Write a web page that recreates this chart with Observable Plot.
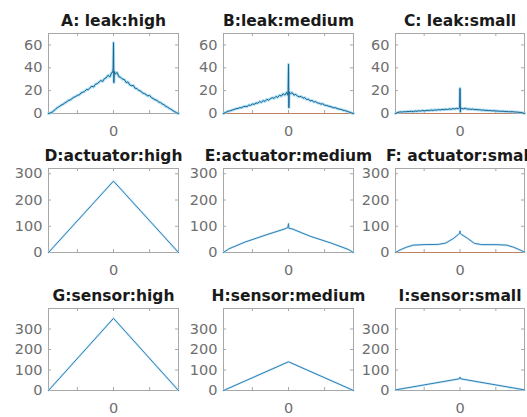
<!DOCTYPE html>
<html>
<head>
<meta charset="utf-8">
<script src="https://cdn.jsdelivr.net/npm/d3@7"></script>
<script src="https://cdn.jsdelivr.net/npm/@observablehq/plot@0.6"></script>
<style>
  html, body { margin: 0; padding: 0; background: #fff; overflow: hidden; }
  #wrap { position: relative; width: 527px; height: 417px; overflow: hidden; }
  .panel { position: absolute; }
  .panel svg { overflow: visible; max-width: none !important; display: block; }
</style>
</head>
<body>
<div id="wrap"></div>
<script>
// ---- data ----
const titles = ["A: leak:high", "B:leak:medium", "C: leak:small",
                "D:actuator:high", "E:actuator:medium", "F: actuator:small",
                "G:sensor:high", "H:sensor:medium", "I:sensor:small"];

const lagsLeak = [-1800,-1750,-1700,-1650,-1600,-1550,-1500,-1450,-1400,-1350,-1300,-1250,-1200,-1150,-1100,-1050,-1000,-950,-900,-850,-800,-750,-700,-650,-600,-550,-500,-450,-400,-350,-300,-250,-200,-150,-100,-50,
  -20,-10,0,10,20,
  50,100,150,200,250,300,350,400,450,500,550,600,650,700,750,800,850,900,950,1000,1050,1100,1150,1200,1250,1300,1350,1400,1450,1500,1550,1600,1650,1700,1750,1800];

const leakHigh = [0,0.5,1.2,2.5,3.9,5.2,6.1,7.3,8.0,9.2,10.1,11.4,11.8,13.0,14.2,14.8,15.9,16.2,18.0,18.6,19.3,21.0,20.8,22.5,23.9,23.2,25.6,26.1,27.4,28.9,28.0,30.6,31.2,33.5,32.0,35.8,
  36,40,62,27,37,
  34.5,35.9,32.1,31.6,30.0,29.8,27.1,27.6,25.0,24.3,24.6,22.0,21.8,20.1,19.8,18.0,17.6,16.5,15.4,15.8,13.9,13.1,12.0,11.5,10.1,9.6,8.4,7.6,6.3,5.5,4.4,3.6,2.4,1.5,0.6,0];

const leakMedium = [0,0.8,1.6,2.2,2.5,3.1,3.6,4.2,4.4,5.1,5.0,5.9,6.3,6.0,7.4,7.1,8.3,8.0,9.2,9.0,10.4,9.8,11.3,10.6,12.4,11.7,13.0,13.8,13.2,14.9,14.1,16.0,15.2,17.3,16.1,18.6,
  16,20,43,5,19,
  17.2,18.3,16.1,16.8,15.2,14.6,15.0,13.4,13.9,12.2,12.6,11.0,11.5,10.1,10.4,9.3,9.0,8.2,8.5,7.3,7.1,6.5,6.2,5.6,5.0,5.1,4.3,3.9,3.6,3.0,2.6,2.2,1.6,1.1,0.5,0];

const leakSmall = [0,0.8,1.2,1.4,1.3,1.6,1.5,1.8,1.7,2.0,1.6,2.2,1.9,2.4,2.1,2.6,2.3,2.5,2.8,2.6,3.0,2.7,3.2,2.9,3.4,3.1,3.6,3.3,3.8,3.5,4.0,3.7,4.3,3.9,4.5,4.2,
  4.8,5.5,22,1.5,5.0,
  4.4,4.1,4.6,3.8,4.0,3.6,3.9,3.4,3.5,3.2,3.3,2.9,3.1,2.7,2.8,2.5,2.6,2.3,2.4,2.2,2.1,2.0,1.9,2.0,1.8,1.7,1.6,1.5,1.6,1.4,1.3,1.2,1.0,0.9,0.6,0];

const lagsActHigh = [-1800, 0, 1800];
const actHigh = [0, 272, 0];

const lagsActMedium = [-1800,-1650,-1200,-600,-100,-20,0,10,100,600,1200,1650,1800];
const actMedium = [0,14,40,68,90,95,110,92,90,62,35,12,0];

const lagsActSmall = [-1800,-1700,-1500,-1300,-1000,-600,-400,-200,-50,-10,0,10,50,200,400,600,1000,1300,1500,1700,1800];
const actSmall = [0,8,20,28,30,31,36,52,68,74,82,72,68,55,35,30,30,28,20,8,2];

const lagsSensor = [-1800, 0, 1800];
const sensorHigh = [0, 352, 0];
const sensorMedium = [0, 140, 0];
const lagsSensorSmall = [-1800,-20,0,20,1800];
const sensorSmall = [3,57,65,57,3];

const yTicksLeak = [0, 20, 40, 60];
const yTicksAct = [0, 100, 200, 300];
const yTicksSensor = [0, 100, 200, 300];
const xTicks = [-1000, 0, 1000];
const xTickLabels = [0];

// ---- layout ----
const colLeft = [48, 223, 395];
const colWidth = [130, 130, 129];
const rowTop = [33, 168, 308];
const rowHeight = [80, 84, 82];
const rowYMax = [70, 320, 400];
const rowYTicks = [yTicksLeak, yTicksAct, yTicksSensor];

const series = [
  [lagsLeak, leakHigh], [lagsLeak, leakMedium], [lagsLeak, leakSmall],
  [lagsActHigh, actHigh], [lagsActMedium, actMedium], [lagsActSmall, actSmall],
  [lagsSensor, sensorHigh], [lagsSensor, sensorMedium], [lagsSensorSmall, sensorSmall]
];
const zeroLine = [false, true, true, false, false, true, false, false, false];

const mL = 44, mR = 12, mT = 34, mB = 30;
const font = "DejaVu Sans, Liberation Sans, Arial, sans-serif";
const wrap = document.getElementById("wrap");

for (let k = 0; k < 9; k++) {
  const r = Math.floor(k / 3), c = k % 3;
  const w = colWidth[c], h = rowHeight[r];
  const [lx, ly] = series[k];
  const data = lx.map((x, i) => ({x, y: ly[i]}));
  const isLeak = r === 0;
  const marks = [
    Plot.frame({stroke: "#a8a8a8"}),
    Plot.tickY(rowYTicks[r], {y: d => d, stroke: "#a8a8a8", insetRight: w - 3}),
    Plot.tickY(rowYTicks[r], {y: d => d, stroke: "#a8a8a8", insetLeft: w - 3}),
    Plot.tickX(xTicks, {x: d => d, stroke: "#a8a8a8", insetTop: h - 3}),
    Plot.tickX(xTicks, {x: d => d, stroke: "#a8a8a8", insetBottom: h - 3}),
    Plot.axisY({ticks: rowYTicks[r], tickSize: 0, tickPadding: 6, fontSize: 14.5, color: "#6e6e6e", label: null}),
    Plot.axisX({ticks: xTickLabels, tickSize: 0, tickPadding: 12, fontSize: 14.5, color: "#6e6e6e", label: null})
  ];
  if (zeroLine[k]) marks.push(Plot.ruleY([0], {stroke: "#D95319", strokeOpacity: 0.45}));
  if (isLeak) {
    marks.push(Plot.line(data, {x: "x", y: "y", stroke: "#8fd3f0", strokeWidth: 3, strokeOpacity: 0.7}));
    marks.push(Plot.line(data, {x: "x", y: "y", stroke: "#17618f", strokeWidth: 1}));
  } else {
    marks.push(Plot.line(data, {x: "x", y: "y", stroke: "#b6e0f3", strokeWidth: 2.2, strokeOpacity: 0.7}));
    marks.push(Plot.line(data, {x: "x", y: "y", stroke: "#2f7fb5", strokeWidth: 1}));
  }
  marks.push(Plot.text([titles[k]], {frameAnchor: "top", dy: -8, lineAnchor: "bottom", fontWeight: "bold", fontSize: 15.5, fill: "#1a1a1a"}));

  const W = w + mL + mR, H = h + mT + mB;
  const chart = Plot.plot({
    width: W,
    height: H,
    marginLeft: mL, marginRight: mR, marginTop: mT, marginBottom: mB,
    x: {domain: [-1800, 1800], label: null},
    y: {domain: [0, rowYMax[r]], label: null},
    style: {fontFamily: font, background: "transparent", overflow: "visible", maxWidth: "none"},
    marks
  });
  const div = document.createElement("div");
  div.className = "panel";
  div.style.left = (colLeft[c] - mL) + "px";
  div.style.top = (rowTop[r] - mT) + "px";
  div.style.width = W + "px";
  div.style.height = H + "px";
  div.appendChild(chart);
  wrap.appendChild(div);
}
</script>
</body>
</html>
